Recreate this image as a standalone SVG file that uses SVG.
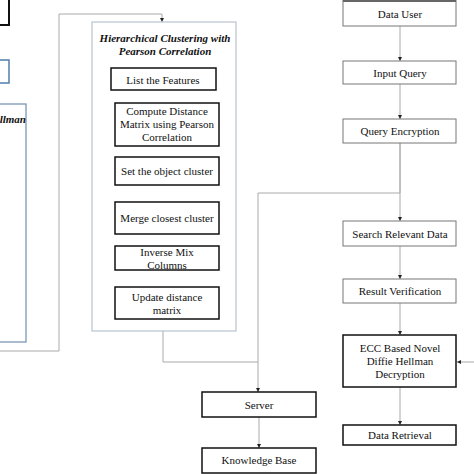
<svg xmlns="http://www.w3.org/2000/svg" width="474" height="474" viewBox="0 0 474 474">
<style>
text{font-family:"Liberation Serif","Times New Roman",serif;font-size:11px;fill:#111;text-anchor:middle}
.it{font-style:italic;font-weight:bold}
.g{fill:#fff;stroke:#777;stroke-width:1}
.k{fill:#fff;stroke:#111;stroke-width:1.5}
.c{fill:none;stroke:#aaa;stroke-width:1}
</style>
<defs>
<marker id="a" viewBox="0 0 6 6" refX="6" refY="3" markerWidth="4" markerHeight="4" orient="auto"><path d="M0,0L6,3L0,6z" fill="#222"/></marker>
</defs>
<rect width="474" height="474" fill="#fff"/>
<g id="left-partial">
<rect x="-10" y="-5" width="19" height="30" fill="#fff" stroke="#111" stroke-width="2"/>
<rect x="-10" y="60" width="19" height="23" fill="#fff" stroke="#4f7fae" stroke-width="1.5"/>
<rect x="-10" y="104" width="36" height="238" fill="#fff" stroke="#7090b0" stroke-width="1.2"/>
<text class="it" x="26" y="123" style="text-anchor:end">Hellman</text>
</g>
<g id="connectors">
<path class="c" d="M0,351H59V14H162V22" stroke="#ccc" stroke-width="2" marker-end="url(#a)"/>
<path class="c" d="M163,331V362H258V392" marker-end="url(#a)"/>
<path class="c" d="M400,143V193H258V362"/>
<path class="c" d="M400,26V61" marker-end="url(#a)"/>
<path class="c" d="M400,84V119" marker-end="url(#a)"/>
<path class="c" d="M400,143V221" marker-end="url(#a)"/>
<path class="c" d="M400,246V279" marker-end="url(#a)"/>
<path class="c" d="M400,303V335" marker-end="url(#a)"/>
<path class="c" d="M400,387V425" marker-end="url(#a)"/>
<path class="c" d="M259,417V448" marker-end="url(#a)"/>
<path class="c" d="M474,362H457" marker-end="url(#a)"/>
</g>
<g id="cluster">
<rect x="92" y="22" width="144" height="309" fill="#fff" stroke="#b8c4d0" stroke-width="1.2"/>
<text class="it" x="165" y="42">Hierarchical  Clustering with</text>
<text class="it" x="165" y="55">Pearson Correlation</text>
</g>
<g id="list-features"><rect class="k" x="111" y="68" width="105" height="22"/><text x="163" y="83.5">List the Features</text></g>
<g id="compute"><rect class="k" x="115" y="103" width="104" height="43"/><text x="167" y="115">Compute Distance</text><text x="167" y="128">Matrix using Pearson</text><text x="167" y="141">Correlation</text></g>
<g id="set-cluster"><rect class="k" x="115" y="157" width="104" height="28"/><text x="167" y="175">Set the object cluster</text></g>
<g id="merge"><rect class="k" x="115" y="202" width="104" height="32"/><text x="167" y="222">Merge closest cluster</text></g>
<g id="inverse"><rect class="k" x="115" y="246" width="104" height="24"/><text x="167" y="256">Inverse Mix</text><text x="167" y="269">Columns</text></g>
<g id="update"><rect class="k" x="115" y="287" width="104" height="32"/><text x="167" y="301">Update distance</text><text x="167" y="314">matrix</text></g>
<g id="server"><rect class="k" x="202" y="392" width="114" height="25"/><text x="259" y="408.5">Server</text></g>
<g id="kb"><rect class="k" x="202" y="448" width="114" height="25"/><text x="259" y="464">Knowledge Base</text></g>
<g id="data-user"><rect class="g" x="343" y="-2" width="113" height="28"/><line x1="343" y1="0.5" x2="456" y2="0.5" stroke="#666" stroke-width="3"/><text x="400" y="18">Data User</text></g>
<g id="input-query"><rect class="g" x="343" y="61" width="113" height="23"/><text x="400" y="76.5">Input Query</text></g>
<g id="query-enc"><rect class="g" x="343" y="119" width="113" height="24"/><text x="400" y="135">Query Encryption</text></g>
<g id="search"><rect class="g" x="343" y="221" width="113" height="25"/><text x="400" y="237.5">Search Relevant  Data</text></g>
<g id="result"><rect class="g" x="343" y="279" width="113" height="24"/><text x="400" y="295">Result Verification</text></g>
<g id="ecc"><rect class="k" x="343" y="335" width="113" height="52"/><text x="400" y="352">ECC Based Novel</text><text x="400" y="365">Diffie Hellman</text><text x="400" y="378">Decryption</text></g>
<g id="retrieval"><rect class="k" x="343" y="425" width="113" height="20"/><text x="400" y="439">Data Retrieval</text></g>
</svg>
